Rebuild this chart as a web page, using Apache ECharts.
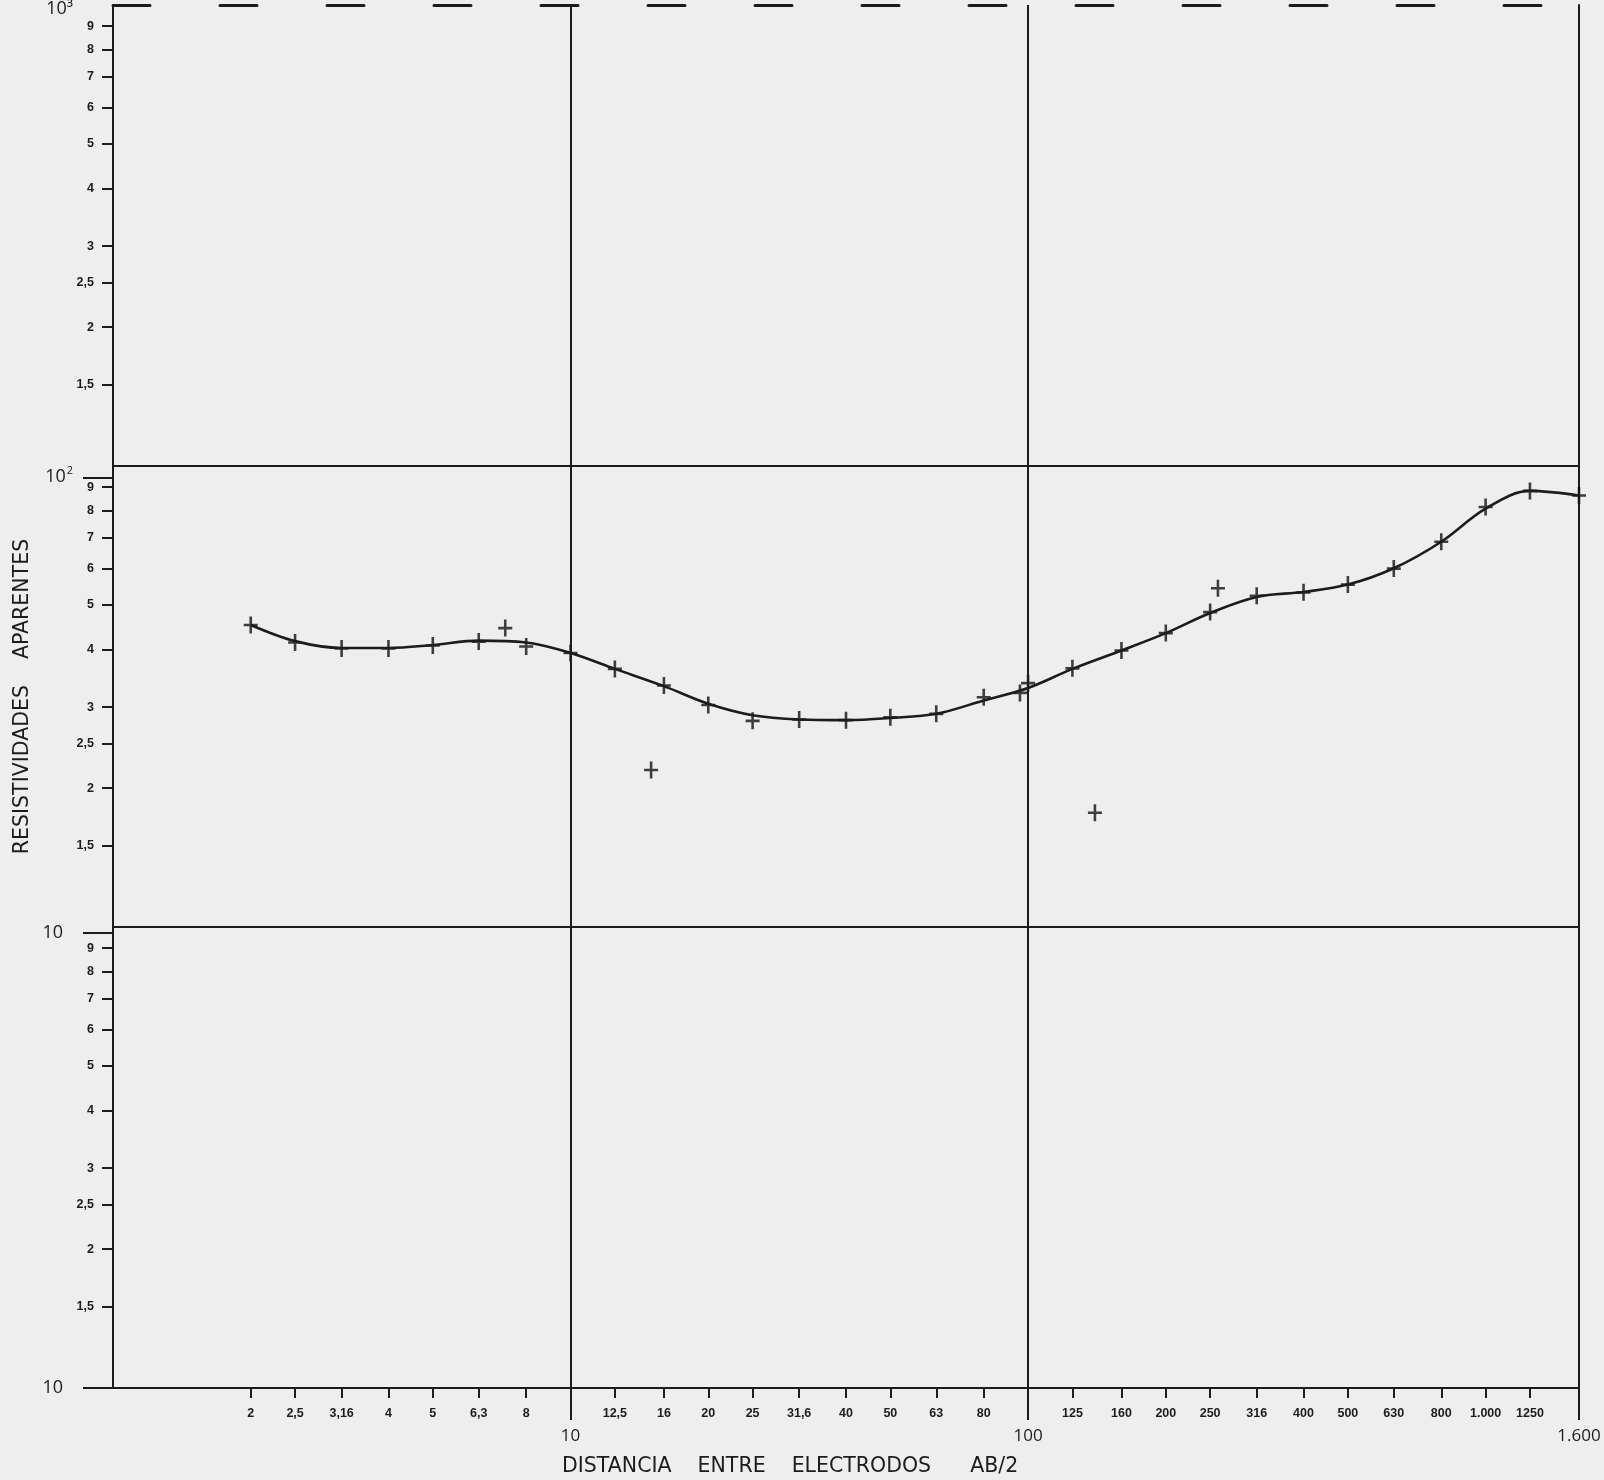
<!DOCTYPE html>
<html><head><meta charset="utf-8">
<script src="https://cdn.jsdelivr.net/npm/echarts@6/dist/echarts.min.js"></script>
<style>html,body{margin:0;padding:0;background:#eeeeee}#c{width:1604px;height:1480px}</style>
</head><body><div id="c"></div>
<script>
// Measured apparent resistivities (crosses)
const measuredAB2 = [2, 2.5, 3.16, 4, 5, 6.3, 7.2, 8, 10, 12.5, 15, 16, 20, 25, 31.6, 40, 50, 63, 80, 96, 100, 125, 140, 160, 200, 250, 260, 316, 400, 500, 630, 800, 1000, 1250, 1600];
const measuredRho = [45.2, 41.4, 40.2, 40.2, 40.8, 41.6, 44.5, 40.6, 39.3, 36.3, 21.9, 33.4, 30.3, 28.0, 28.2, 28.1, 28.5, 29.0, 31.5, 32.2, 33.8, 36.4, 17.7, 39.8, 43.4, 48.2, 54.3, 52.3, 53.2, 55.3, 59.9, 68.5, 81.5, 88.3, 86.3];
// Hand-drawn interpretation curve
const curveAB2 = [2, 2.5, 3.16, 4, 5, 6.3, 8, 10, 12.5, 16, 20, 25, 31.6, 40, 50, 63, 80, 100, 125, 160, 200, 250, 316, 400, 500, 630, 800, 1000, 1250, 1600];
const curveRho = [45.2, 41.7, 40.3, 40.3, 40.9, 41.8, 41.4, 39.3, 36.3, 33.3, 30.5, 28.8, 28.2, 28.1, 28.4, 29.0, 31.0, 33.0, 36.3, 39.8, 43.4, 48.0, 52.0, 53.3, 55.3, 60.0, 68.5, 80.8, 88.3, 86.3];

// Axis ticks / labels
const xMinorTicks = [2, 2.5, 3.16, 4, 5, 6.3, 8, 12.5, 16, 20, 25, 31.6, 40, 50, 63, 80, 125, 160, 200, 250, 316, 400, 500, 630, 800, 1000, 1250];
const xMinorLabels = ['2', '2,5', '3,16', '4', '5', '6,3', '8', '12,5', '16', '20', '25', '31,6', '40', '50', '63', '80', '125', '160', '200', '250', '316', '400', '500', '630', '800', '1.000', '1250'];
const xDecadeTicks = [10, 100, 1600];
const xDecadeLabels = ['10', '100', '1.600'];
const yMinorFactors = [1.5, 2, 2.5, 3, 4, 5, 6, 7, 8, 9];
const yMinorFactorLabels = ['1,5', '2', '2,5', '3', '4', '5', '6', '7', '8', '9'];
const yDecadeTicks = [1, 10, 100, 1000];
const yDecadeLabels = ['{big|10}', '{big|10}', '{big2|10}{sup|2}', '{cut|10³}\n{gap| }'];
const gridLinesX = [10, 100];
const gridLinesY = [10, 100];

const yMinorTicks = [], yMinorLabels = [];
[1, 10, 100].forEach(d => yMinorFactors.forEach((f, i) => { yMinorTicks.push(d * f); yMinorLabels.push(yMinorFactorLabels[i]); }));

function lookup(ticks, labels) {
  return v => { const i = ticks.findIndex(t => Math.abs(t - v) <= 1e-6 * t); return i >= 0 ? labels[i] : ''; };
}

const INK = '#1c1c1c';
const minorFont = { fontFamily: 'Liberation Sans', fontWeight: 'bold', fontSize: 12.5, color: INK };
const bigFont = { fontFamily: 'Open Sans', fontSize: 17, color: INK };
const titleFont = { fontFamily: 'DejaVu Sans', fontSize: 20.5, fontWeight: 'normal', color: INK };
const G = { left: 113, right: 25, top: 5, bottom: 92 };

const chart = echarts.init(document.getElementById('c'), null, { renderer: 'canvas' });
chart.setOption({
  animation: false,
  backgroundColor: '#eeeeee',
  title: {
    text: 'DISTANCIA    ENTRE    ELECTRODOS      AB/2',
    left: 557, top: 1451,
    textStyle: titleFont
  },
  grid: [Object.assign({}, G), Object.assign({}, G)],
  xAxis: [
    { gridIndex: 0, type: 'log', logBase: 10, min: 1, max: 1600, position: 'bottom',
      axisLine: { show: true, lineStyle: { color: INK, width: 2 } },
      axisTick: { show: true, customValues: xMinorTicks, length: 10, lineStyle: { color: INK, width: 2 } },
      axisLabel: { show: true, customValues: xMinorTicks, formatter: lookup(xMinorTicks, xMinorLabels), margin: 19, ...minorFont },
      splitLine: { show: false }, minorTick: { show: false } },
    { gridIndex: 0, type: 'log', logBase: 10, min: 1, max: 1600, position: 'top',
      axisLine: { show: true, lineStyle: { color: INK, width: 3, type: [37, 70] } },
      axisTick: { show: false }, axisLabel: { show: false }, splitLine: { show: false } },
    { gridIndex: 1, type: 'log', logBase: 10, min: 1, max: 1600, position: 'bottom',
      axisLine: { show: false },
      axisTick: { show: true, customValues: xDecadeTicks, length: 32, lineStyle: { color: INK, width: 2 } },
      axisLabel: { show: true, customValues: xDecadeTicks, formatter: lookup(xDecadeTicks, xDecadeLabels), margin: 40, ...bigFont },
      splitLine: { show: false } }
  ],
  yAxis: [
    { gridIndex: 0, type: 'log', logBase: 10, min: 1, max: 1000, position: 'left',
      name: 'RESISTIVIDADES    APARENTES', nameLocation: 'middle', nameGap: 80, nameRotate: 90,
      nameTextStyle: titleFont,
      axisLine: { show: true, lineStyle: { color: INK, width: 2 } },
      axisTick: { show: true, customValues: yMinorTicks, length: 11, lineStyle: { color: INK, width: 2 } },
      axisLabel: { show: true, customValues: yMinorTicks, formatter: lookup(yMinorTicks, yMinorLabels), margin: 19, ...minorFont },
      splitLine: { show: false }, minorTick: { show: false } },
    { gridIndex: 0, type: 'log', logBase: 10, min: 1, max: 1000, position: 'right',
      axisLine: { show: true, lineStyle: { color: INK, width: 2 } },
      axisTick: { show: false }, axisLabel: { show: false }, splitLine: { show: false } },
    { gridIndex: 1, type: 'log', logBase: 10, min: 1, max: 1000, position: 'left',
      axisLine: { show: false },
      axisTick: { show: true, customValues: [1, 10, 100], length: 30, lineStyle: { color: INK, width: 2 } },
      axisLabel: { show: true, customValues: yDecadeTicks, formatter: lookup(yDecadeTicks, yDecadeLabels), margin: 40,
        rich: {
          big: { fontFamily: 'Open Sans', fontSize: 18, color: INK, padding: [0, 10, 0, 0] },
          big2: { fontFamily: 'Open Sans', fontSize: 18, color: INK },
          sup: { fontFamily: 'Open Sans', fontSize: 11, color: INK, padding: [0, 0, 12, 1] },
          cut: { fontFamily: 'Open Sans', fontSize: 18, color: INK, lineHeight: 18 },
          gap: { fontSize: 8, lineHeight: 26 }
        } },
      splitLine: { show: false } }
  ],
  series: [
    { type: 'line', xAxisIndex: 0, yAxisIndex: 0, data: [], silent: true,
      markLine: { silent: true, symbol: ['none', 'none'], label: { show: false },
        lineStyle: { color: INK, width: 2, type: 'solid' },
        data: gridLinesY.map(v => ({ yAxis: v })).concat(gridLinesX.map(v => ({ xAxis: v }))) } },
    { name: 'curva', type: 'line', xAxisIndex: 0, yAxisIndex: 0, smooth: 0.35, showSymbol: false, silent: true,
      lineStyle: { color: INK, width: 2.6 },
      data: curveAB2.map((x, i) => [x, curveRho[i]]) },
    { name: 'medidas', type: 'scatter', xAxisIndex: 0, yAxisIndex: 0, silent: true,
      symbol: 'path://M5.7,0H8.3V7.2H14V9.8H8.3V17H5.7V9.8H0V7.2H5.7Z', symbolSize: [14, 17],
      itemStyle: { color: '#111' },
      data: measuredAB2.map((x, i) => [x, measuredRho[i]]) }
  ]
});
</script></body></html>
